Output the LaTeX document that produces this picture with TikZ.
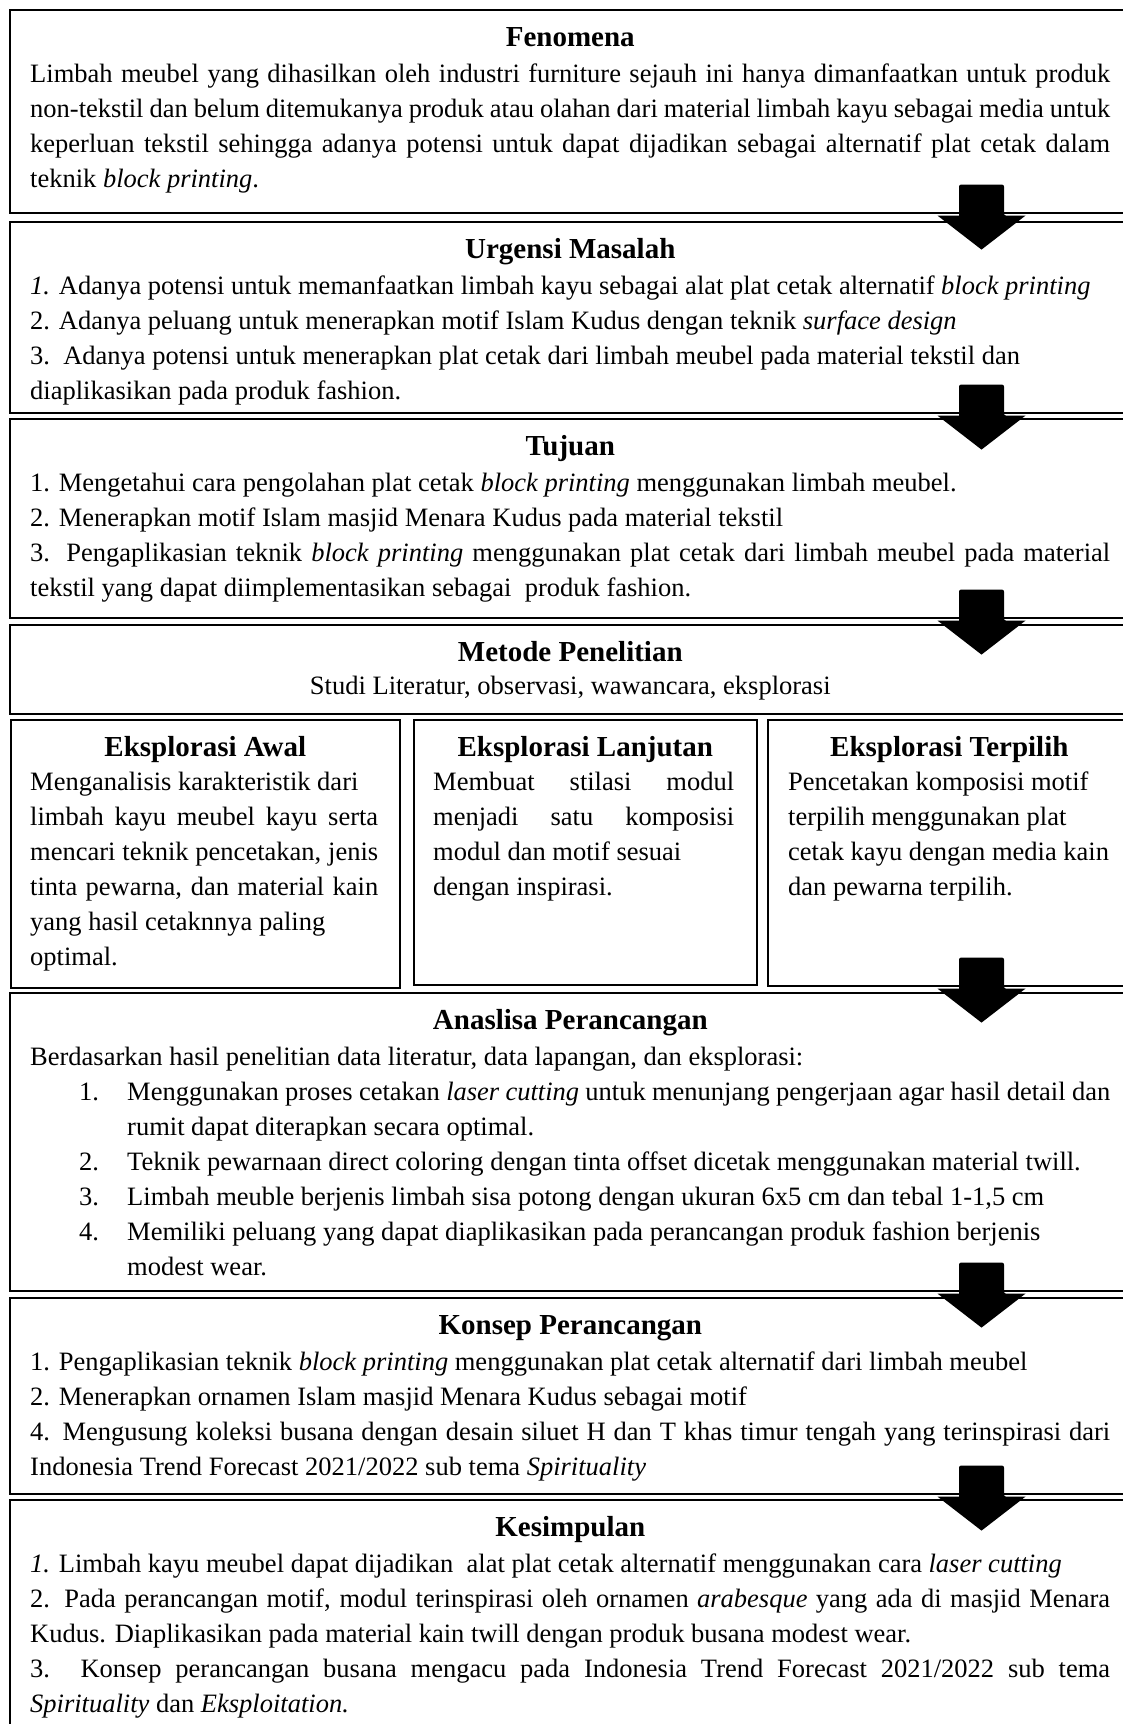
\documentclass[tikz,border=0pt]{standalone}
\usepackage{fontspec}
\setmainfont{Liberation Serif}
\usetikzlibrary{positioning}
\newcommand\panelfont{\fontsize{26.5}{35}\selectfont\tolerance=9999 \hyphenpenalty=10000 \exhyphenpenalty=10000 \parindent=0pt }
\newcommand\headfont{\fontsize{29}{35}\selectfont\bfseries}
\tikzset{
panel/.style = { rectangle, draw = black, line width = 1.6pt, fill = white, inner sep = 0pt, anchor = north west },
heading/.style = { anchor = base, inner sep = 0pt, font = \headfont },
body/.style = { anchor = base west, inner sep = 0pt, align = justify, font = \panelfont },
}
\tikzset{
pics/flow arrow/.style = {
        code = {
        \path[fill = black] (-44, 2) -- (-22.5, 2) [rounded corners = 2pt] -- (-22.5, -29) -- (22.5, -29) -- (22.5, 2) [sharp corners] -- (44, 2) -- (0, 36) -- cycle;
        }
    }
}

\begin{document}
\begin{tikzpicture}[x=1pt, y=-1pt]
      \useasboundingbox (0,0) rectangle (1123,1724);
      \clip (0,0) rectangle (1123,1724);
      \fill[white] (0,0) rectangle (1123,1724);
      \begin{scope}[every node/.style={panel}]
        \node[minimum width=1121pt, minimum height=203pt] (fen) at (9,9) {};
        \node[minimum width=1121pt, minimum height=191pt] (urg) at (9,221) {};
        \node[minimum width=1121pt, minimum height=199pt] (tuj) at (9,418) {};
        \node[minimum width=1121pt, minimum height=89pt] (met) at (9,624) {};
        \node[minimum width=389pt, minimum height=268pt] (awal) at (10,719) {};
        \node[minimum width=343pt, minimum height=265pt] (lanj) at (413,719) {};
        \node[minimum width=363pt, minimum height=266pt] (terp) at (767,719) {};
        \node[minimum width=1121pt, minimum height=298pt] (ana) at (9,992) {};
        \node[minimum width=1121pt, minimum height=196pt] (kon) at (9,1297) {};
        \node[minimum width=1121pt, minimum height=240pt] (kes) at (9,1499) {};
      \end{scope}
      \begin{scope}[every node/.style={heading}]
        \node (fenT) at ([yshift=-37pt]fen.north) {Fenomena};
        \node (urgT) at ([yshift=-37pt]urg.north) {Urgensi Masalah};
        \node (tujT) at ([yshift=-37pt]tuj.north) {Tujuan};
        \node (metT) at ([yshift=-37pt]met.north) {Metode Penelitian};
        \node (awalT) at ([yshift=-37pt]awal.north) {Eksplorasi Awal};
        \node (lanjT) at ([yshift=-37pt]lanj.north) {Eksplorasi Lanjutan};
        \node (terpT) at ([yshift=-37pt]terp.north) {Eksplorasi Terpilih};
        \node (anaT) at ([yshift=-37pt]ana.north) {Anaslisa Perancangan};
        \node (konT) at ([yshift=-37pt]kon.north) {Konsep Perancangan};
        \node (kesT) at ([yshift=-37pt]kes.north) {Kesimpulan};
      \end{scope}
      \begin{scope}[every node/.style={body, text width=1080pt}]
        \node (fenB) at ([xshift=21pt, yshift=-73pt]fen.north west) {Limbah meubel yang dihasilkan oleh industri furniture sejauh ini hanya dimanfaatkan untuk produk\linebreak non-tekstil dan belum ditemukanya produk atau olahan dari material limbah kayu sebagai media untuk\linebreak keperluan tekstil sehingga adanya potensi untuk dapat dijadikan sebagai alternatif plat cetak dalam\linebreak teknik \textit{block printing}.};
        \node (urgB) at ([xshift=21pt, yshift=-73pt]urg.north west) {\textit{1.} Adanya potensi untuk memanfaatkan limbah kayu sebagai alat plat cetak alternatif \textit{block printing}\\ 2. Adanya peluang untuk menerapkan motif Islam Kudus dengan teknik \textit{surface design}\\ 3.\ \ Adanya potensi untuk menerapkan plat cetak dari limbah meubel pada material tekstil dan\\ diaplikasikan pada produk fashion.};
        \node (tujB) at ([xshift=21pt, yshift=-73pt]tuj.north west) {1. Mengetahui cara pengolahan plat cetak \textit{block printing} menggunakan limbah meubel.\\ 2. Menerapkan motif Islam masjid Menara Kudus pada material tekstil\\ 3. Pengaplikasian teknik \textit{block printing} menggunakan plat cetak dari limbah meubel pada material\linebreak tekstil yang dapat diimplementasikan sebagai\ \ produk fashion.};
        \node[anchor=base, align=center, text width=] (metB) at ([yshift=-70pt]met.north) {Studi Literatur, observasi, wawancara, eksplorasi};
        \node (anaB) at ([xshift=21pt, yshift=-73pt]ana.north west) {Berdasarkan hasil penelitian data literatur, data lapangan, dan eksplorasi:\par
          \leftskip=97pt
          \noindent\llap{\makebox[48pt][l]{1.}}Menggunakan proses cetakan \textit{laser cutting} untuk menunjang pengerjaan agar hasil detail dan\linebreak rumit dapat diterapkan secara optimal.\par
          \noindent\llap{\makebox[48pt][l]{2.}}Teknik pewarnaan direct coloring dengan tinta offset dicetak menggunakan material twill.\par
          \noindent\llap{\makebox[48pt][l]{3.}}Limbah meuble berjenis limbah sisa potong dengan ukuran 6x5 cm dan tebal 1-1,5 cm\par
          \noindent\llap{\makebox[48pt][l]{4.}}Memiliki peluang yang dapat diaplikasikan pada perancangan produk fashion berjenis\hfil\break modest wear.\par};
        \node (konB) at ([xshift=21pt, yshift=-73pt]kon.north west) {1. Pengaplikasian teknik \textit{block printing} menggunakan plat cetak alternatif dari limbah meubel\\ 2. Menerapkan ornamen Islam masjid Menara Kudus sebagai motif\\ 4. Mengusung koleksi busana dengan desain siluet H dan T khas timur tengah yang terinspirasi dari\linebreak Indonesia Trend Forecast 2021/2022 sub tema \textit{Spirituality}};
        \node (kesB) at ([xshift=21pt, yshift=-73pt]kes.north west) {\textit{1.} Limbah kayu meubel dapat dijadikan\ \ alat plat cetak alternatif menggunakan cara \textit{laser cutting}\\ 2. Pada perancangan motif, modul terinspirasi oleh ornamen \textit{arabesque} yang ada di masjid Menara\linebreak Kudus. Diaplikasikan pada material kain twill dengan produk busana modest wear.\\ 3. Konsep perancangan busana mengacu pada Indonesia Trend Forecast 2021/2022 sub tema\linebreak \textit{Spirituality} dan \textit{Eksploitation.}};
      \end{scope}
      \begin{scope}[every node/.style={body}]
        \node[text width=348pt] (awalB) at ([xshift=20pt, yshift=-71pt]awal.north west) {Menganalisis karakteristik dari\\ limbah kayu meubel kayu serta\linebreak mencari teknik pencetakan, jenis\linebreak tinta pewarna, dan material kain\linebreak yang hasil cetaknnya paling\\ optimal.};
        \node[text width=301pt] (lanjB) at ([xshift=20pt, yshift=-71pt]lanj.north west) {Membuat stilasi modul\linebreak menjadi satu komposisi\linebreak modul dan motif sesuai\\ dengan inspirasi.};
        \node[text width=330pt] (terpB) at ([xshift=21pt, yshift=-71pt]terp.north west) {Pencetakan komposisi motif\\ terpilih menggunakan plat\\ cetak kayu dengan media kain\\ dan pewarna terpilih.};
      \end{scope}
      \coordinate (spine) at (981.5,0);
      \pic at (spine |- fen.south) {flow arrow};
      \pic at (spine |- urg.south) {flow arrow};
      \pic at (spine |- tuj.south) {flow arrow};
      \pic at (spine |- terp.south) {flow arrow};
      \pic at (spine |- ana.south) {flow arrow};
      \pic at (spine |- kon.south) {flow arrow};
\end{tikzpicture}
\end{document}
